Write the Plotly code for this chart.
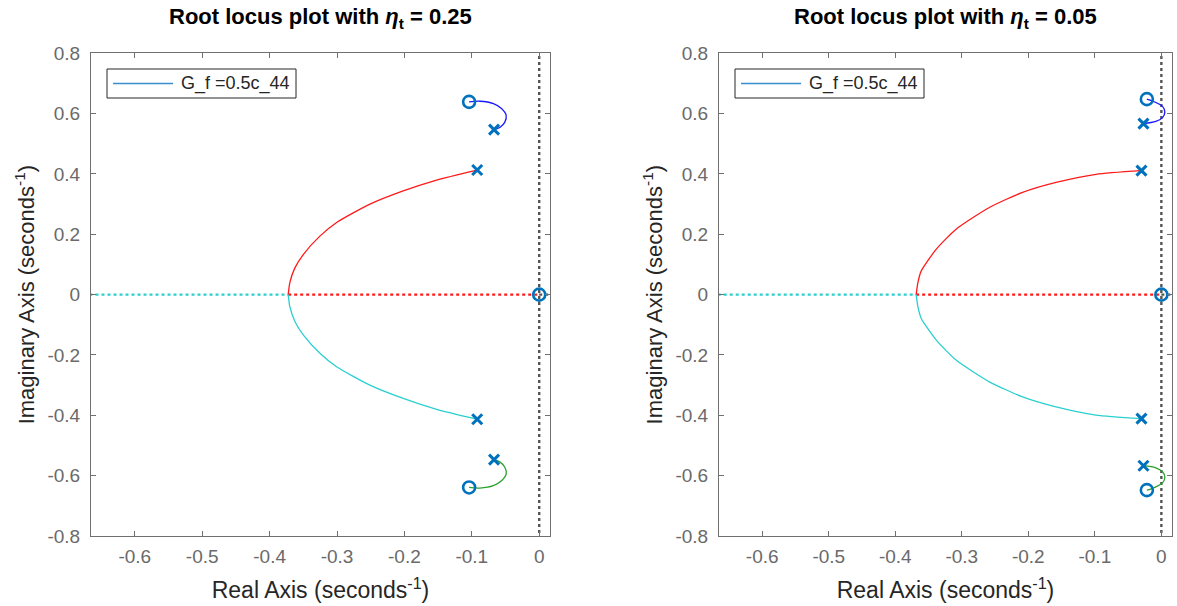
import plotly.graph_objects as go

# ---------------- data ----------------
titles = ["0.25", "0.05"]
legend_label = "G_f =0.5c_44"

x_ticks = [-0.6, -0.5, -0.4, -0.3, -0.2, -0.1, 0]
x_tick_text = ["-0.6", "-0.5", "-0.4", "-0.3", "-0.2", "-0.1", "0"]
y_ticks = [-0.8, -0.6, -0.4, -0.2, 0, 0.2, 0.4, 0.6, 0.8]
y_tick_text = ["-0.8", "-0.6", "-0.4", "-0.2", "0", "0.2", "0.4", "0.6", "0.8"]
x_range = [-0.665, 0.016]
y_range = [-0.8, 0.8]

# eta_t = 0.25
red_re_L = [-0.3724, -0.3700, -0.3625, -0.3501, -0.3254, -0.3006, -0.2512, -0.2018, -0.1522, -0.0920]
red_im_L = [0.0, 0.040, 0.0887, 0.133, 0.194, 0.239, 0.300, 0.344, 0.380, 0.413]
blue_re_L = [-0.104, -0.088, -0.068, -0.056, -0.049, -0.051, -0.058, -0.067]
blue_im_L = [0.639, 0.641, 0.633, 0.617, 0.594, 0.572, 0.555, 0.547]
poles_re_L = [-0.067, -0.067, -0.092, -0.092]
poles_im_L = [0.547, -0.547, 0.413, -0.413]
zeros_re_L = [-0.104, -0.104, 0.0]
zeros_im_L = [0.639, -0.639, 0.0]

# eta_t = 0.05
red_re_R = [-0.3686, -0.3660, -0.3611, -0.3386, -0.3086, -0.2586, -0.2086, -0.1584, -0.0983, -0.0299]
red_im_R = [0.0, 0.040, 0.078, 0.150, 0.217, 0.289, 0.339, 0.372, 0.399, 0.411]
blue_re_R = [-0.0218, -0.0134, 0.0017, 0.0053, 0.0017, -0.0083, -0.0269]
blue_im_R = [0.648, 0.642, 0.624, 0.605, 0.587, 0.574, 0.567]
poles_re_R = [-0.0269, -0.0269, -0.0299, -0.0299]
poles_im_R = [0.567, -0.567, 0.411, -0.411]
zeros_re_R = [-0.0218, -0.0218, 0.0]
zeros_im_R = [0.648, -0.648, 0.0]

panels = [
    dict(red_re=red_re_L, red_im=red_im_L, blue_re=blue_re_L, blue_im=blue_im_L,
         p_re=poles_re_L, p_im=poles_im_L, z_re=zeros_re_L, z_im=zeros_im_L),
    dict(red_re=red_re_R, red_im=red_im_R, blue_re=blue_re_R, blue_im=blue_im_R,
         p_re=poles_re_R, p_im=poles_im_R, z_re=zeros_re_R, z_im=zeros_im_R),
]

# ---------------- style ----------------
RED = "#ff1a1a"
CYAN = "#2ccfcf"
BLUE = "#1a1aff"
GREEN = "#2ca02c"
MARK = "#0072BD"
LEG = "#3a8fd0"
DOT = "#555555"
FONT = "Liberation Sans, Arial, sans-serif"
W, H = 1177, 606

x_domains = [[91 / W, 550 / W], [719 / W, 1172 / W]]
y_domain = [(H - 536) / H, (H - 53.3) / H]

fig = go.Figure()

for i, p in enumerate(panels):
    xa = "x" if i == 0 else "x2"
    ya = "y" if i == 0 else "y2"
    common = dict(xaxis=xa, yaxis=ya, hoverinfo="skip", showlegend=False)

    brk = p["red_re"][0]
    # real-axis segments (dotted appearance, as in the reference)
    fig.add_trace(go.Scatter(x=[x_range[0] - 0.02, brk], y=[0, 0], mode="lines",
                             line=dict(color=CYAN, width=2.2, dash="dot"), **common))
    fig.add_trace(go.Scatter(x=[brk, 0], y=[0, 0], mode="lines",
                             line=dict(color=RED, width=2.2, dash="dot"), **common))
    fig.add_trace(go.Scatter(x=[0, x_range[1] + 0.01], y=[0, 0], mode="lines",
                             line=dict(color=DOT, width=2.2, dash="dot"), **common))
    # vertical dotted line at Re = 0
    fig.add_trace(go.Scatter(x=[0, 0], y=[y_range[0] - 0.05, y_range[1] + 0.05], mode="lines",
                             line=dict(color=DOT, width=2.4, dash="dot"), **common))

    # complex branches
    fig.add_trace(go.Scatter(x=p["red_re"], y=p["red_im"], mode="lines",
                             line=dict(color=RED, width=1.3, shape="spline", smoothing=0.6), **common))
    fig.add_trace(go.Scatter(x=p["red_re"], y=[-v for v in p["red_im"]], mode="lines",
                             line=dict(color=CYAN, width=1.3, shape="spline", smoothing=0.6), **common))
    fig.add_trace(go.Scatter(x=p["blue_re"], y=p["blue_im"], mode="lines",
                             line=dict(color=BLUE, width=1.3, shape="spline", smoothing=1.0), **common))
    fig.add_trace(go.Scatter(x=p["blue_re"], y=[-v for v in p["blue_im"]], mode="lines",
                             line=dict(color=GREEN, width=1.3, shape="spline", smoothing=1.0), **common))

    # poles and zeros
    fig.add_trace(go.Scatter(x=p["p_re"], y=p["p_im"], mode="markers",
                             marker=dict(symbol="x-thin", size=10, line=dict(color=MARK, width=3)),
                             **common))
    fig.add_trace(go.Scatter(x=p["z_re"], y=p["z_im"], mode="markers",
                             marker=dict(symbol="circle-open", size=12, color=MARK,
                                         line=dict(color=MARK, width=2.6)),
                             **common))

axis_common = dict(
    showgrid=False, zeroline=False, showline=True, mirror="ticks", automargin=False,
    linecolor="#707070", linewidth=1, ticks="inside", ticklen=5, tickcolor="#707070",
    tickfont=dict(family=FONT, size=19, color="#6a6a6a"),
)

xtitle = dict(text="Real Axis (seconds<sup>-1</sup>)",
              font=dict(family=FONT, size=23, color="#262626"), standoff=16)
ytitle = dict(text="Imaginary Axis (seconds<sup>-1</sup>)",
              font=dict(family=FONT, size=22, color="#262626"), standoff=6)

fig.update_layout(
    width=W, height=H,
    margin=dict(l=0, r=0, t=0, b=0, autoexpand=False),
    plot_bgcolor="white", paper_bgcolor="white",
    showlegend=False,
    xaxis=dict(domain=x_domains[0], range=x_range, tickvals=x_ticks, ticktext=x_tick_text,
               anchor="y", title=xtitle, ticklabelstandoff=3, **axis_common),
    yaxis=dict(domain=y_domain, range=y_range, tickvals=y_ticks, ticktext=y_tick_text,
               anchor="x", title=ytitle, ticklabelstandoff=6, **axis_common),
    xaxis2=dict(domain=x_domains[1], range=x_range, tickvals=x_ticks, ticktext=x_tick_text,
                anchor="y2", title=xtitle, ticklabelstandoff=3, **axis_common),
    yaxis2=dict(domain=y_domain, range=y_range, tickvals=y_ticks, ticktext=y_tick_text,
                anchor="x2", title=ytitle, ticklabelstandoff=6, **axis_common),
)

# legends (box, sample line, label) drawn in the top-left corner of each panel
legend_left_px = [107, 735]
for lx in legend_left_px:
    fig.add_shape(type="rect", xref="paper", yref="paper",
                  x0=lx / W, x1=(lx + 189) / W, y0=1 - 98 / H, y1=1 - 69 / H,
                  line=dict(color="#262626", width=1), fillcolor="white", layer="above")
    fig.add_shape(type="line", xref="paper", yref="paper",
                  x0=(lx + 6) / W, x1=(lx + 66) / W, y0=1 - 83.5 / H, y1=1 - 83.5 / H,
                  line=dict(color=LEG, width=1.5), layer="above")
    fig.add_annotation(x=(lx + 72) / W, y=1 - 83.5 / H, xref="paper", yref="paper",
                       xanchor="left", yanchor="middle", text=legend_label, showarrow=False,
                       font=dict(family=FONT, size=18, color="#262626"))

for i, t in enumerate(titles):
    cx = (x_domains[i][0] + x_domains[i][1]) / 2
    fig.add_annotation(
        x=cx, y=1 - 18 / H, xref="paper", yref="paper", xanchor="center", yanchor="middle",
        text="<b>Root locus plot with <i>η</i><sub>t</sub> = " + t + "</b>",
        showarrow=False, font=dict(family=FONT, size=22, color="#000000"),
    )

fig.write_html("out.html", config={"displayModeBar": False},
               post_script="document.body.style.margin='0';")
